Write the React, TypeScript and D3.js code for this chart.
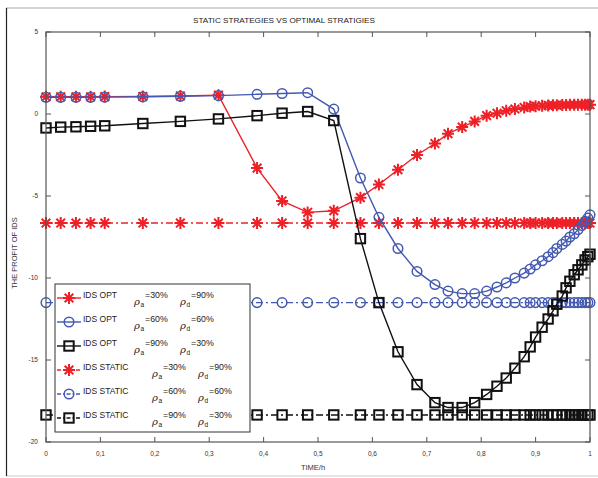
import React from "react";
import * as d3 from "d3";

const W = 598;
const H = 478;

// Time grid shared by every series (solver steps, denser near t = 1)
const timeSteps = [
  0, 0.027, 0.055, 0.082, 0.108, 0.178, 0.247, 0.317, 0.388, 0.434,
  0.481, 0.529, 0.578, 0.612, 0.647, 0.682, 0.715, 0.739, 0.765, 0.788,
  0.81, 0.829, 0.846, 0.862, 0.879, 0.89, 0.9, 0.912, 0.923, 0.932,
  0.939, 0.949, 0.956, 0.963, 0.971, 0.978, 0.985, 0.991, 0.996, 1.0,
];

// Optimal strategies: profit of IDS
const optA30D90 = [
  1.05, 1.05, 1.05, 1.05, 1.06, 1.07, 1.1, 1.15, -3.3, -5.3,
  -6.0, -5.9, -5.1, -4.3, -3.4, -2.5, -1.8, -1.2, -0.8, -0.45,
  -0.1, 0.05, 0.2, 0.3, 0.4, 0.45, 0.48, 0.5, 0.52, 0.53,
  0.54, 0.55, 0.55, 0.56, 0.56, 0.57, 0.57, 0.57, 0.57, 0.57,
];
const optA60D60 = [
  1.02, 1.02, 1.02, 1.02, 1.03, 1.05, 1.08, 1.12, 1.2, 1.25,
  1.3, 0.3, -3.9, -6.3, -8.2, -9.6, -10.4, -10.8, -10.95, -10.95,
  -10.8, -10.55, -10.3, -10.0, -9.7, -9.45, -9.2, -8.95, -8.7, -8.45,
  -8.2, -7.95, -7.75, -7.5, -7.3, -7.05, -6.8, -6.55, -6.35, -6.15,
];
const optA90D30 = [
  -0.85, -0.8, -0.78, -0.75, -0.72, -0.58, -0.45, -0.3, -0.1, 0.05,
  0.15, -0.4, -7.6, -11.5, -14.5, -16.5, -17.6, -17.9, -17.9, -17.6,
  -17.1, -16.6, -16.1, -15.5, -14.8, -14.2, -13.6, -13.0, -12.5, -12.0,
  -11.6, -11.1, -10.6, -10.2, -9.8, -9.5, -9.2, -8.9, -8.7, -8.55,
];

// Static strategies: constant profit levels
const staticA30D90 = -6.65;
const staticA60D60 = -11.5;
const staticA90D30 = -18.35;

const xTicks = [0, 0.1, 0.2, 0.3, 0.4, 0.5, 0.6, 0.7, 0.8, 0.9, 1];
const xTickLabels = ["0", "0,1", "0,2", "0,3", "0,4", "0,5", "0,6", "0,7", "0,8", "0,9", "1"];
const yTicks = [5, 0, -5, -10, -15, -20];
const yTickLabels = ["5", "0", "-5", "-10", "-15", "-20"];

const legendNames = ["IDS OPT", "IDS OPT", "IDS OPT", "IDS STATIC", "IDS STATIC", "IDS STATIC"];
const legendRhoA = ["=30%", "=60%", "=90%", "=30%", "=60%", "=90%"];
const legendRhoD = ["=90%", "=60%", "=30%", "=90%", "=60%", "=30%"];

const RED = "#ee2027";
const BLUE = "#4459b0";
const BLACK = "#111111";
const FONT = "'Liberation Sans', Arial, sans-serif";

const x = d3.scaleLinear().domain([0, 1]).range([46, 590]);
const y = d3.scaleLinear().domain([-20, 5]).range([442, 32]);

type MarkerKind = "star" | "circle" | "square";

function Marker({ kind, cx, cy, color }: { kind: MarkerKind; cx: number; cy: number; color: string }) {
  if (kind === "star") {
    const r = 6;
    const d = r * 0.72;
    const p = `M${cx - r},${cy}H${cx + r}M${cx},${cy - r}V${cy + r}M${cx - d},${cy - d}L${cx + d},${cy + d}M${cx - d},${cy + d}L${cx + d},${cy - d}`;
    return <path d={p} stroke={color} strokeWidth={2} fill="none" />;
  }
  if (kind === "circle") {
    return <circle cx={cx} cy={cy} r={4.8} stroke={color} strokeWidth={1.5} fill="none" />;
  }
  return <rect x={cx - 4.7} y={cy - 4.7} width={9.4} height={9.4} stroke={color} strokeWidth={2} fill="none" />;
}

interface Series {
  values: number[];
  color: string;
  kind: MarkerKind;
  dashed: boolean;
}

const series: Series[] = [
  { values: timeSteps.map(() => staticA30D90), color: RED, kind: "star", dashed: true },
  { values: timeSteps.map(() => staticA60D60), color: BLUE, kind: "circle", dashed: true },
  { values: timeSteps.map(() => staticA90D30), color: BLACK, kind: "square", dashed: true },
  { values: optA30D90, color: RED, kind: "star", dashed: false },
  { values: optA60D60, color: BLUE, kind: "circle", dashed: false },
  { values: optA90D30, color: BLACK, kind: "square", dashed: false },
];

const legendSeries = [series[3], series[4], series[5], series[0], series[1], series[2]];

const line = d3
  .line<number>()
  .x((_, i) => x(timeSteps[i]))
  .y((v) => y(v));

export default function App() {
  const legendX = 55;
  const legendY = 284;
  const rowY = (i: number) => 298 + i * 24;

  return (
    <svg
      width={W}
      height={H}
      style={{ position: "absolute", left: 0, top: 0, background: "#fff" }}
      fontFamily={FONT}
    >
      {/* figure frame */}
      <line x1={6} y1={8} x2={598} y2={8} stroke="#aaa" strokeWidth={1.2} />
      <line x1={6} y1={476} x2={598} y2={476} stroke="#ccc" strokeWidth={1.2} />
      <line x1={6.5} y1={8} x2={6.5} y2={476} stroke="#222" strokeWidth={1.2} />

      <text x={284} y={23} fontSize={8} textAnchor="middle" textLength={182} lengthAdjust="spacingAndGlyphs" fill="#222">
        STATIC STRATEGIES VS OPTIMAL STRATIGIES
      </text>

      {/* series */}
      {series.map((s, si) => (
        <g key={si}>
          <path
            d={line(s.values) || ""}
            stroke={s.color}
            strokeWidth={1.4}
            fill="none"
            strokeDasharray={s.dashed ? "7,3,2,3" : undefined}
          />
          {s.values.map((v, i) => (
            <Marker key={i} kind={s.kind} cx={x(timeSteps[i])} cy={y(v)} color={s.color} />
          ))}
        </g>
      ))}

      {/* axes box */}
      <rect x={46} y={32} width={544} height={410} fill="none" stroke="#555" strokeWidth={1.2} />
      {xTicks.map((t, i) => (
        <g key={`xt${i}`}>
          <line x1={x(t)} x2={x(t)} y1={442} y2={437} stroke="#555" />
          <line x1={x(t)} x2={x(t)} y1={32} y2={37} stroke="#555" />
          <text x={x(t)} y={456} fontSize={6.5} textAnchor="middle" fill="#333">
            {xTickLabels[i]}
          </text>
        </g>
      ))}
      {yTicks.map((v, i) => (
        <g key={`yt${i}`}>
          <line x1={46} x2={51} y1={y(v)} y2={y(v)} stroke="#555" />
          <line x1={590} x2={585} y1={y(v)} y2={y(v)} stroke="#555" />
          <text x={38} y={y(v) + 2.3} fontSize={6.5} textAnchor="end" fill="#333">
            {yTickLabels[i]}
          </text>
        </g>
      ))}

      <text x={313} y={470} fontSize={7.5} textAnchor="middle" fill="#333">
        TIME/h
      </text>
      <text
        transform="translate(17,253) rotate(-90)"
        fontSize={7.5}
        textAnchor="middle"
        fill="#333"
      >
        THE PROFIT OF IDS
      </text>

      {/* legend */}
      <rect x={legendX} y={legendY} width={195} height={148} fill="#fff" stroke="#333" strokeWidth={1} />
      {legendSeries.map((s, i) => {
        const ry = rowY(i);
        const isStatic = i >= 3;
        const ax = isStatic ? 152 : 134;
        const dx = isStatic ? 198 : 180;
        return (
          <g key={`lg${i}`}>
            <line
              x1={57}
              x2={81}
              y1={ry}
              y2={ry}
              stroke={s.color}
              strokeWidth={1.4}
              strokeDasharray={s.dashed ? "4,2,1.5,2" : undefined}
            />
            <Marker kind={s.kind} cx={69} cy={ry} color={s.color} />
            <text x={83} y={ry - 0.5} fontSize={8.5} fill="#222">
              {legendNames[i]}
            </text>
            <text x={ax} y={ry + 6.5} fontSize={10} fontStyle="italic" fill="#222" fontFamily="'DejaVu Serif', serif">
              ρ
            </text>
            <text x={ax + 6.5} y={ry + 8.5} fontSize={6.5} fill="#222">
              a
            </text>
            <text x={ax + 11} y={ry - 0.5} fontSize={8.8} fill="#222">
              {legendRhoA[i]}
            </text>
            <text x={dx} y={ry + 6.5} fontSize={10} fontStyle="italic" fill="#222" fontFamily="'DejaVu Serif', serif">
              ρ
            </text>
            <text x={dx + 6.5} y={ry + 8.5} fontSize={6.5} fill="#222">
              d
            </text>
            <text x={dx + 11} y={ry - 0.5} fontSize={8.8} fill="#222">
              {legendRhoD[i]}
            </text>
          </g>
        );
      })}
    </svg>
  );
}
